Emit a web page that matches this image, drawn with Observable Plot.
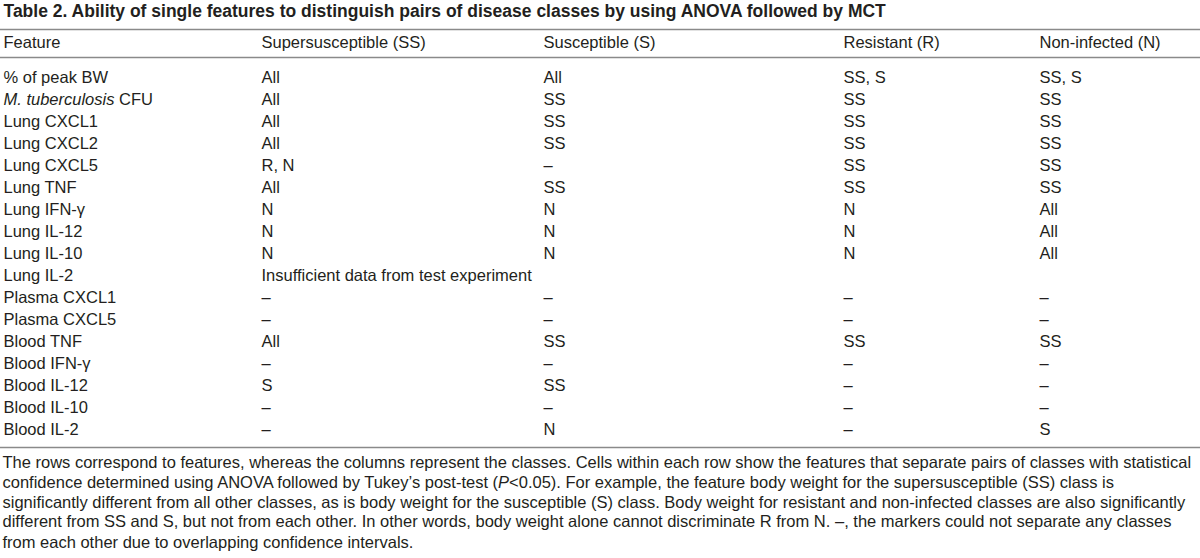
<!DOCTYPE html>
<html><head><meta charset="utf-8">
<script src="https://cdn.jsdelivr.net/npm/d3@7"></script>
<script src="https://cdn.jsdelivr.net/npm/@observablehq/plot@0.6"></script>
<style>body{margin:0;background:#fff;}</style>
</head><body><div id="chart"></div>
<script>
const title = "Table 2. Ability of single features to distinguish pairs of disease classes by using ANOVA followed by MCT";
const columns = ["Feature", "Supersusceptible (SS)", "Susceptible (S)", "Resistant (R)", "Non-infected (N)"];
const features = ["% of peak BW", "*M. tuberculosis* CFU", "Lung CXCL1", "Lung CXCL2", "Lung CXCL5", "Lung TNF",
  "Lung IFN-γ", "Lung IL-12", "Lung IL-10", "Lung IL-2", "Plasma CXCL1", "Plasma CXCL5", "Blood TNF",
  "Blood IFN-γ", "Blood IL-12", "Blood IL-10", "Blood IL-2"];
const ssValues = ["All", "All", "All", "All", "R, N", "All", "N", "N", "N", "Insufficient data from test experiment", "–", "–", "All", "–", "S", "–", "–"];
const sValues  = ["All", "SS", "SS", "SS", "–", "SS", "N", "N", "N", "", "–", "–", "SS", "–", "SS", "–", "N"];
const rValues  = ["SS, S", "SS", "SS", "SS", "SS", "SS", "N", "N", "N", "", "–", "–", "SS", "–", "–", "–", "–"];
const nValues  = ["SS, S", "SS", "SS", "SS", "SS", "SS", "All", "All", "All", "", "–", "–", "SS", "–", "–", "–", "S"];
const footnote = [
  "The rows correspond to features, whereas the columns represent the classes. Cells within each row show the features that separate pairs of classes with statistical",
  "confidence determined using ANOVA followed by Tukey’s post-test (*P*<0.05). For example, the feature body weight for the supersusceptible (SS) class is",
  "significantly different from all other classes, as is body weight for the susceptible (S) class. Body weight for resistant and non-infected classes are also significantly",
  "different from SS and S, but not from each other. In other words, body weight alone cannot discriminate R from N. –, the markers could not separate any classes",
  "from each other due to overlapping confidence intervals."
];

// layout (not data)
const colX = {"Feature": 3, "Supersusceptible (SS)": 261, "Susceptible (S)": 543, "Resistant (R)": 843, "Non-infected (N)": 1039};
const FONT = "'Liberation Sans', Arial, Helvetica, sans-serif";
const INK = "#231f20";
const RULE = "#8a8a8a";
const FS = 16.5;
const footDy = [33, 53, 73, 92, 113];
const justify = [true, false, true, true, false];

const cells = [];
features.forEach((f, i) => {
  cells.push({row: f, col: columns[0], label: f});
  cells.push({row: f, col: columns[1], label: ssValues[i]});
  cells.push({row: f, col: columns[2], label: sValues[i]});
  cells.push({row: f, col: columns[3], label: rValues[i]});
  cells.push({row: f, col: columns[4], label: nValues[i]});
});
const header = columns.map(c => ({col: c, label: c}));
const first = features[0], last = features[features.length - 1];

const chart = Plot.plot({
  width: 1200, height: 558,
  margin: 0,
  style: {fontFamily: FONT, color: INK, background: "#fff"},
  x: {type: "identity", axis: null},
  y: {type: "point", domain: features, range: [77, 429], padding: 0, round: false, axis: null},
  marks: [
    Plot.text([title], {x: 3, y: () => first, dy: -66, text: d => d, textAnchor: "start", fontWeight: "bold", fontSize: 17.5, fill: INK}),
    Plot.ruleY([first], {dy: -48, stroke: RULE, strokeWidth: 1.5}),
    Plot.text(header, {x: d => colX[d.col], y: () => first, dy: -35, text: "label", textAnchor: "start", fontSize: FS, fill: INK}),
    Plot.ruleY([first], {dy: -20, stroke: RULE, strokeWidth: 1.5}),
    Plot.text(cells, {x: d => colX[d.col], y: "row", text: "label", textAnchor: "start", fontSize: FS, fill: INK}),
    Plot.ruleY([last], {dy: 18, stroke: RULE, strokeWidth: 1.5}),
    ...footnote.map((t, i) => Plot.text([t], {x: 2, y: () => last, dy: footDy[i], text: d => d, textAnchor: "start", fontSize: FS, fill: INK, ariaLabel: "footnote-" + i}))
  ]
});
document.getElementById("chart").append(chart);

// italics markup -> tspans
d3.select(chart).selectAll("text").each(function() {
  const t = this.textContent;
  if (!t.includes("*")) return;
  const parts = t.split("*");
  const sel = d3.select(this);
  sel.text(null);
  parts.forEach((p, k) => {
    if (!p) return;
    sel.append("tspan").attr("font-style", k % 2 ? "italic" : null).text(p);
  });
});
// justify footnote lines to the full width
footnote.forEach((t, i) => {
  if (!justify[i]) return;
  d3.select(chart).selectAll(`g[aria-label="footnote-${i}"] text`)
    .attr("textLength", 1195).attr("lengthAdjust", "spacing");
});
</script></body></html>
